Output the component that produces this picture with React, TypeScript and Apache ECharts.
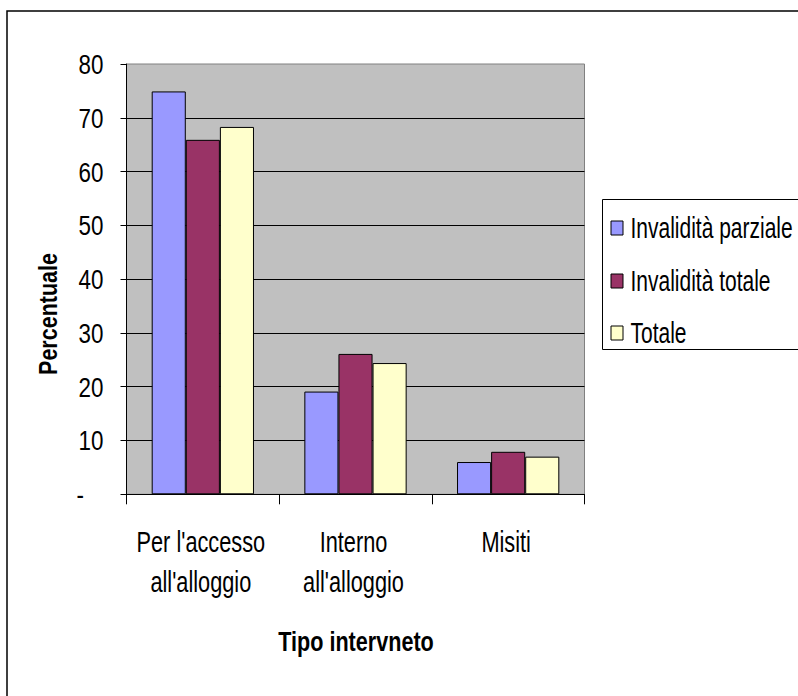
import React, { useEffect, useRef } from "react";
import * as echarts from "echarts";

const categoryLines = [["Per l'accesso", "all'alloggio"], ["Interno", "all'alloggio"], ["Misiti"]];
const seriesNames = ["Invalidità parziale", "Invalidità totale", "Totale"];
const parziale = [74.9, 19.1, 6.0];
const totaleInv = [65.9, 26.1, 7.9];
const totale = [68.3, 24.4, 7.0];
const colors = ["#9999FF", "#993366", "#FFFFCC"];
const yTicks = [0, 10, 20, 30, 40, 50, 60, 70, 80];
const yTickLabels = ["-", "10", "20", "30", "40", "50", "60", "70", "80"];
const xTitle = "Tipo intervneto";
const yTitle = "Percentuale";

const FONT = "'Liberation Sans', Arial, sans-serif";

// Narrow text: a regular sans face squeezed horizontally
function narrowText(
  text: string,
  x: number,
  y: number,
  size: number,
  scaleX: number,
  align: string,
  bold = false,
  rotation = 0
) {
  return {
    type: "text",
    x,
    y,
    scaleX,
    rotation,
    silent: true,
    z: 10,
    style: {
      text,
      fill: "#000",
      fontFamily: FONT,
      fontSize: size,
      fontWeight: bold ? "bold" : "normal",
      align,
      verticalAlign: "middle",
    },
  };
}

export default function App() {
  const ref = useRef<HTMLDivElement>(null);

  useEffect(() => {
    if (!ref.current) return;
    const chart = echarts.init(ref.current, undefined, { renderer: "svg" });
    const values = [parziale, totaleInv, totale];
    chart.setOption({
      animation: false,
      backgroundColor: "#ffffff",
      textStyle: { fontFamily: FONT, color: "#000" },
      grid: {
        left: 126.5,
        top: 64,
        right: 213.5,
        bottom: 201.7,
        show: true,
        backgroundColor: "#C0C0C0",
        borderColor: "#808080",
        borderWidth: 1,
      },
      xAxis: {
        type: "category",
        data: categoryLines.map((l) => l.join("\n")),
        axisLine: { show: true, lineStyle: { color: "#000", width: 1 } },
        axisTick: { show: true, alignWithLabel: false, length: 10, lineStyle: { color: "#000" } },
        axisLabel: { show: false },
        splitLine: { show: false },
      },
      yAxis: {
        type: "value",
        min: 0,
        max: 80,
        interval: 10,
        axisLine: { show: true, lineStyle: { color: "#000", width: 1 } },
        axisTick: { show: true, length: 6, lineStyle: { color: "#000" } },
        axisLabel: { show: false },
        splitLine: {
          show: true,
          showMinLine: false,
          showMaxLine: false,
          lineStyle: { color: "#000", width: 1 },
        },
      },
      series: seriesNames.map((name, i) => ({
        name,
        type: "bar",
        data: values[i],
        barGap: "0%",
        barCategoryGap: "33%",
        itemStyle: { color: colors[i], borderColor: "#000", borderWidth: 1 },
      })),
    });

    const graphics: any[] = [
      {
        type: "rect",
        shape: { x: 7, y: 11, width: 900, height: 900 },
        style: { fill: "none", stroke: "#000", lineWidth: 1.5 },
        silent: true,
      },
      {
        type: "rect",
        shape: { x: 602.5, y: 199.5, width: 300, height: 150 },
        style: { fill: "#fff", stroke: "#000", lineWidth: 1 },
        silent: true,
      },
    ];

    // y tick labels placed on the value axis
    yTicks.forEach((v, i) => {
      const py = chart.convertToPixel({ yAxisIndex: 0 }, v) as number;
      const isDash = yTickLabels[i] === "-";
      graphics.push(narrowText(yTickLabels[i], isDash ? 84 : 103.5, py, 28, 0.8, "right"));
    });

    // category labels under each group
    categoryLines.forEach((lines, i) => {
      const px = chart.convertToPixel({ xAxisIndex: 0 }, i) as number;
      lines.forEach((line, j) => {
        graphics.push(narrowText(line, px - 2, 542 + j * 40, 29, 0.75, "center"));
      });
    });

    // axis titles
    graphics.push(narrowText(xTitle, 356, 642, 27, 0.8, "center", true));
    graphics.push(narrowText(yTitle, 48, 314, 25, 0.86, "center", true, Math.PI / 2));

    // legend
    const legendY = [228, 281, 333];
    seriesNames.forEach((name, i) => {
      graphics.push({
        type: "rect",
        shape: { x: 611, y: legendY[i] - 7, width: 12, height: 14 },
        style: { fill: colors[i], stroke: "#000", lineWidth: 1 },
        silent: true,
        z: 10,
      });
      graphics.push(narrowText(name, 630.5, legendY[i], 30, 0.7, "left"));
    });

    chart.setOption({ graphic: graphics });
    return () => chart.dispose();
  }, []);

  return (
    <div
      ref={ref}
      style={{ position: "fixed", left: 0, top: 0, width: 798, height: 696 }}
    />
  );
}
